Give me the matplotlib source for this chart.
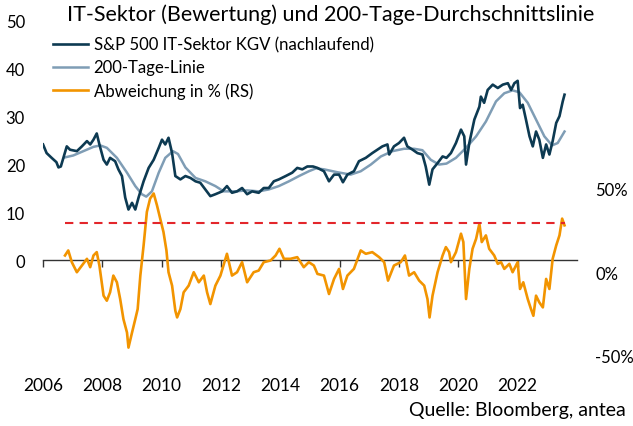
import matplotlib
matplotlib.use("Agg")
import matplotlib.pyplot as plt
import numpy as np

plt.rcParams['font.family'] = ['Lato', 'DejaVu Sans']

# S&P 500 IT-Sektor KGV (nachlaufend)
kgv_x = [2006.0, 2006.12, 2006.29, 2006.45, 2006.52, 2006.6, 2006.8, 2006.91, 2007.14, 2007.31,
         2007.48, 2007.59, 2007.7, 2007.81, 2007.9, 2008.04, 2008.15, 2008.26, 2008.43, 2008.54,
         2008.66, 2008.77, 2008.88, 2009.0, 2009.11, 2009.22, 2009.39, 2009.56, 2009.73, 2009.9,
         2010.01, 2010.12, 2010.23, 2010.35, 2010.46, 2010.63, 2010.8, 2010.97, 2011.14, 2011.3,
         2011.47, 2011.64, 2011.81, 2012.04, 2012.2, 2012.37, 2012.54, 2012.71, 2012.88, 2013.05,
         2013.27, 2013.44, 2013.61, 2013.78, 2013.95, 2014.18, 2014.4, 2014.57, 2014.74, 2014.91,
         2015.1, 2015.25, 2015.47, 2015.64, 2015.81, 2015.98, 2016.11, 2016.26, 2016.48, 2016.65,
         2016.88, 2017.1, 2017.27, 2017.44, 2017.61, 2017.67, 2017.83, 2018.0, 2018.17, 2018.28,
         2018.46, 2018.62, 2018.79, 2018.9, 2019.02, 2019.13, 2019.3, 2019.47, 2019.6, 2019.75,
         2019.92, 2020.09, 2020.2, 2020.26, 2020.37, 2020.54, 2020.71, 2020.76, 2020.87, 2020.99,
         2021.16, 2021.33, 2021.5, 2021.67, 2021.78, 2021.89, 2022.0, 2022.08, 2022.17, 2022.28,
         2022.4, 2022.51, 2022.62, 2022.73, 2022.85, 2022.96, 2023.07, 2023.18, 2023.3, 2023.41,
         2023.52, 2023.58]
kgv_y = [24.2, 22.4, 21.4, 20.5, 19.4, 19.6, 23.8, 23.1, 22.8, 23.8,
         24.9, 24.2, 25.2, 26.5, 24.2, 21.0, 20.0, 21.4, 20.7, 19.0,
         17.6, 13.1, 10.6, 12.0, 10.6, 13.1, 16.5, 19.3, 21.0, 23.5,
         25.2, 24.2, 25.6, 22.4, 17.6, 16.9, 17.6, 17.2, 16.5, 16.2,
         14.8, 13.4, 13.8, 14.4, 15.5, 14.1, 14.4, 15.1, 13.8, 14.4,
         14.1, 15.1, 15.1, 16.5, 16.9, 17.6, 18.3, 19.3, 19.0, 19.6,
         19.6, 19.3, 18.6, 16.5, 17.9, 17.9, 16.3, 17.9, 18.6, 20.7,
         21.4, 22.4, 23.1, 23.8, 24.2, 22.1, 23.8, 24.5, 25.6, 23.8,
         23.1, 22.4, 22.1, 19.6, 15.8, 19.0, 20.3, 21.7, 21.4, 22.4,
         24.5, 27.3, 25.9, 20.0, 24.5, 29.4, 32.1, 34.2, 32.9, 35.6,
         36.7, 36.0, 36.7, 37.0, 35.6, 37.0, 37.5, 31.8, 32.5, 29.4,
         25.9, 23.8, 26.9, 25.2, 21.4, 24.2, 22.1, 24.9, 28.7, 30.1,
         33.2, 34.6]

# 200-Tage-Linie
ma_x = [2006.74, 2007.02, 2007.36, 2007.7, 2007.93, 2008.15, 2008.49, 2008.83, 2009.11, 2009.33,
        2009.48, 2009.67, 2009.9, 2010.12, 2010.38, 2010.55, 2010.8, 2011.14, 2011.47, 2011.81,
        2012.09, 2012.49, 2012.88, 2013.27, 2013.61, 2013.95, 2014.29, 2014.63, 2014.96, 2015.2,
        2015.47, 2015.92, 2016.37, 2016.71, 2017.05, 2017.39, 2017.78, 2018.17, 2018.51, 2018.79,
        2019.07, 2019.35, 2019.6, 2019.92, 2020.26, 2020.6, 2020.93, 2021.27, 2021.55, 2021.83,
        2022.06, 2022.34, 2022.62, 2022.9, 2023.16, 2023.35, 2023.58]
ma_y = [21.5, 21.9, 22.8, 23.7, 24.0, 23.5, 21.4, 18.3, 15.5, 13.8,
        13.3, 14.4, 18.3, 21.4, 22.8, 22.2, 19.4, 17.2, 16.5, 15.5,
        14.4, 14.4, 14.6, 14.4, 14.8, 15.5, 16.5, 17.6, 18.6, 19.2,
        19.0, 18.4, 17.9, 18.6, 20.0, 21.7, 22.8, 23.3, 23.3, 23.0,
        21.0, 20.0, 20.2, 21.4, 23.5, 25.9, 29.0, 33.2, 34.9, 35.5,
        35.1, 32.9, 29.4, 25.9, 24.0, 24.5, 26.9]

# Abweichung in % (RS)
dev_x = [2006.74, 2006.85, 2006.97, 2007.14, 2007.31, 2007.48, 2007.59, 2007.7, 2007.81, 2007.9,
         2008.04, 2008.15, 2008.26, 2008.37, 2008.49, 2008.6, 2008.71, 2008.83, 2008.88, 2009.0,
         2009.11, 2009.19, 2009.28, 2009.39, 2009.5, 2009.61, 2009.73, 2009.84, 2009.95, 2010.06,
         2010.16, 2010.23, 2010.35, 2010.46, 2010.52, 2010.63, 2010.74, 2010.91, 2011.08, 2011.25,
         2011.42, 2011.53, 2011.64, 2011.81, 2011.98, 2012.2, 2012.37, 2012.54, 2012.71, 2012.88,
         2013.1, 2013.27, 2013.44, 2013.67, 2013.84, 2013.97, 2014.12, 2014.34, 2014.57, 2014.79,
         2014.96, 2015.13, 2015.25, 2015.47, 2015.64, 2015.81, 2015.98, 2016.11, 2016.26, 2016.48,
         2016.71, 2016.88, 2017.1, 2017.33, 2017.5, 2017.63, 2017.83, 2018.06, 2018.2, 2018.34,
         2018.51, 2018.68, 2018.85, 2018.96, 2019.03, 2019.13, 2019.3, 2019.47, 2019.58, 2019.69,
         2019.75, 2019.92, 2020.09, 2020.17, 2020.26, 2020.37, 2020.48, 2020.6, 2020.71, 2020.79,
         2020.93, 2021.04, 2021.21, 2021.33, 2021.44, 2021.55, 2021.72, 2021.83, 2022.0, 2022.08,
         2022.19, 2022.34, 2022.45, 2022.53, 2022.62, 2022.73, 2022.85, 2022.96, 2023.07, 2023.18,
         2023.3, 2023.41, 2023.5, 2023.58]
dev_y = [10, 13, 6, 0, 4, 8, 3, 10, 12, 4,
         -14, -17, -12, -2, -6, -16, -28, -36, -45, -36,
         -28, -22, -2, 16, 36, 44, 47, 40, 32, 24,
         13, 0, -8, -23, -27, -22, -12, -8, 0, -6,
         -2, -12, -19, -8, -2, 11, -2, 0, 6, -6,
         0, 1, 6, 7, 10, 14, 8, 8, 9, 3,
         6, 4, -1, -2, -13, -4, 2, -10, -2, 2,
         13, 11, 12, 9, 6, -5, 4, 6, 10, -2,
         0, -5, -8, -16, -27, -14, 0, 10, 15, 12,
         6, 12, 23, 18, -16, 2, 14, 20, 29, 18,
         22, 14, 10, 5, 6, 2, 5, 0, 6, -10,
         -6, -16, -22, -26, -14, -18, -21, -4, -10, 8,
         16, 22, 32, 28]
dev_max = 29.5

left_ticks = [0, 10, 20, 30, 40, 50]
right_ticks = [-50, 0, 50]
right_labels = ['-50%', '0%', '50%']
year_ticks = list(range(2006, 2024, 2))

fig = plt.figure(figsize=(6.33, 4.27), dpi=100)
ax = fig.add_axes([0.068, 0.164, 0.8435, 0.7845])
ax2 = ax.twinx()

ax.plot(ma_x, ma_y, color='#7f9db5', lw=1.8, label='200-Tage-Linie', zorder=2)
ax.plot(kgv_x, kgv_y, color='#0d3a52', lw=1.9, label='S&P 500 IT-Sektor KGV (nachlaufend)', zorder=3)
ax2.plot(dev_x, dev_y, color='#f29400', lw=1.9, label='Abweichung in % (RS)')
ax2.plot([dev_x[0], dev_x[-1]], [dev_max, dev_max], color='#e3262b', lw=1.5, ls=(0, (4, 3)))

ax.set_xlim(2006, 2024)
ax.set_ylim(-20, 50)
ax2.set_ylim(-50, 150)

for a in (ax, ax2):
    for s in a.spines.values():
        s.set_visible(False)
ax.spines['bottom'].set_visible(True)
ax.spines['bottom'].set_position(('data', 0))
ax.spines['bottom'].set_color('#333333')
ax.spines['bottom'].set_linewidth(1.0)

ax.set_xticks(year_ticks)
ax.tick_params(axis='x', direction='out', length=5, width=1, color='#333333',
               labelsize=12.5, pad=79)
ax.set_yticks(left_ticks)
ax.tick_params(axis='y', length=0, labelsize=12, pad=13)
ax2.set_yticks(right_ticks)
ax2.set_yticklabels(right_labels)
ax2.tick_params(axis='y', length=0, labelsize=12, pad=13)

fig.text(0.523, 0.965, 'IT-Sektor (Bewertung) und 200-Tage-Durchschnittslinie',
         ha='center', va='center', fontsize=15.5)

h1, l1 = ax.get_legend_handles_labels()
h2, l2 = ax2.get_legend_handles_labels()
order = [1, 0]
handles = [h1[i] for i in order] + h2
labels = [l1[i] for i in order] + l2
fig.legend(handles, labels, loc='upper left', bbox_to_anchor=(0.084, 0.912),
           frameon=False, fontsize=12.1, handlelength=2.1, handletextpad=0.3,
           labelspacing=0.4, borderpad=0, borderaxespad=0)

fig.text(0.988, 0.038, 'Quelle: Bloomberg, antea', ha='right', va='center', fontsize=14)

fig.savefig('out.png', dpi=100)
